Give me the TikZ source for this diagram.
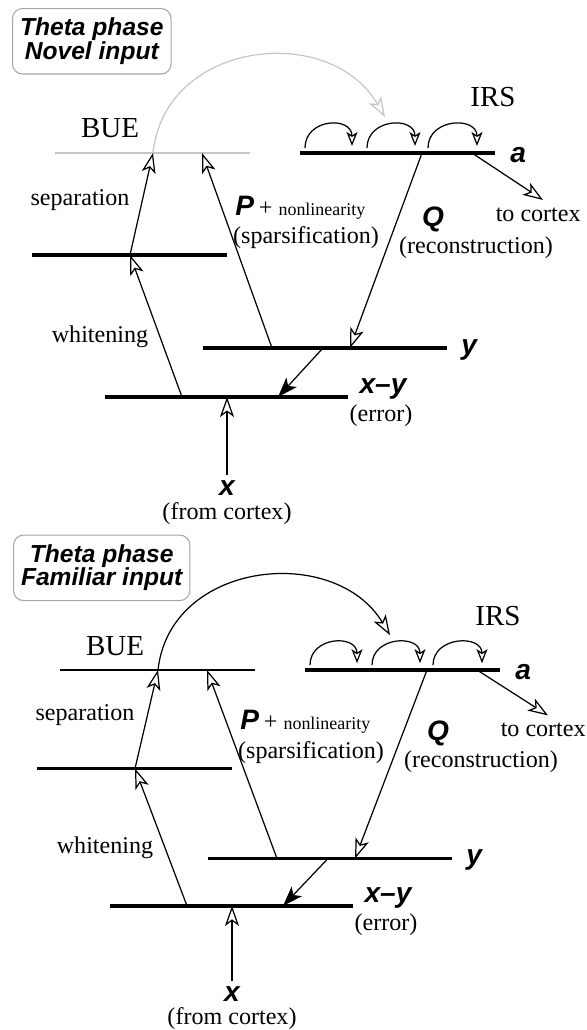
\documentclass[tikz,border=0pt]{standalone}
\usepackage{fontspec}
\setmainfont{Liberation Serif}
\setsansfont{Liberation Sans}
\usetikzlibrary{arrows.meta,positioning}
\tikzset{
  layer/.style={line width=1.9pt},
  feed/.style={line width=0.7pt,-{Stealth[open,length=4mm,width=2.8mm,inset=1mm]}},
  err feed/.style={line width=0.7pt,-{Stealth[length=4mm,width=2.8mm,inset=1mm]}},
  hop/.style={line width=0.7pt,-{Stealth[open,length=2.8mm,width=2.2mm,inset=0.7mm]}},
  lab/.style={font=\fontsize{13.7}{15}\selectfont,inner sep=0pt},
  big lab/.style={font=\fontsize{16.5}{18}\selectfont,inner sep=0pt},
  small lab/.style={font=\fontsize{10.2}{12}\selectfont,inner sep=0pt},
  var/.style={font=\fontsize{16}{17}\sffamily\bfseries\itshape\selectfont,inner sep=0pt},
  title box/.style={draw=gray!70,rounded corners=2mm,line width=0.6pt,align=center,
    inner xsep=1.5mm,inner ysep=1.9mm,font=\fontsize{14}{13.4}\sffamily\bfseries\itshape\selectfont},
}

\begin{document}
\begin{tikzpicture}[x=0.2mm,y=-0.2mm]
  \useasboundingbox (0,0) rectangle (587,1030);
  \foreach \dx/\dy/\sy/\tx/\ty/\kind/\arccol in {0/0/1/12/8/Novel/gray!45,5/522/0.967/8/13/Familiar/black}{
  \begin{scope}[shift={(\dx,\dy)},yscale=\sy]
    \node[title box,anchor=north west] (ttl) at (\tx,\ty) {Theta phase\\\kind{} input};
    % layers
    \coordinate (bueL) at (55,153);  \coordinate (bueR) at (250,153);
    \coordinate (irsL) at (300,153); \coordinate (irsR) at (495,153);
    \coordinate (wL) at (32,255);    \coordinate (wR) at (227,255);
    \coordinate (yL) at (203,348);   \coordinate (yR) at (447,348);
    \coordinate (eL) at (105,397);   \coordinate (eR) at (348,397);
    \draw[line width=1.1pt,draw=\arccol] (bueL) -- (bueR);
    \draw[layer] (irsL) -- (irsR);
    \draw[layer] (wL) -- (wR);
    \draw[layer] (yL) -- (yR);
    \draw[layer] (eL) -- (eR);
    % where the arrows meet the layers
    \coordinate (bueA) at (153,153); \coordinate (bueB) at (202,153);
    \coordinate (wA) at (130,255);
    \coordinate (yP) at (272,348);   \coordinate (yE) at (323,348); \coordinate (yQ) at (350,348);
    \coordinate (eW) at (182,397);   \coordinate (eX) at (227,397); \coordinate (eE) at (278,397);
    \coordinate (irsQ) at (422,153); \coordinate (irsC) at (472,153);
    \coordinate (cortex) at (543,200);
    \coordinate (xin) at (227,475);
    \coordinate (arcT) at (385,117);
    % labels
    \node[big lab] (bue) at (110,128) {BUE};
    \node[big lab] (irs) at (493,97) {IRS};
    \node[lab] (sep) at (80,200) {separation};
    \node[lab] (white) at (100,337) {whitening};
    \node[var,anchor=base west] (P) at (235,215) {P};
    \node[lab,anchor=base west,xshift=0.8mm] (plus) at (P.base east) {+};
    \node[small lab,anchor=base west,xshift=1.1mm] (nonlin) at (plus.base east) {nonlinearity};
    \node[lab] (sparse) at (306,238) {(sparsification)};
    \node[var] (Q) at (433,219) {Q};
    \node[lab] (recon) at (476,248) {(reconstruction)};
    \node[lab,anchor=east] (tocx) at (581,215) {to cortex};
    \node[var,anchor=west] (a) at (510,155) {a};
    \node[var,anchor=west] (y) at (461,350) {y};
    \node[var] (xy) at (383,389) {x–y};
    \node[lab] (err) at (381,416) {(error)};
    \node[var] (x) at (227,488) {x};
    \node[lab] (fromcx) at (227,514) {(from cortex)};
    % connectors
    \draw[feed] (eW) -- (wA);
    \draw[feed] (wA) -- (bueA);
    \draw[feed] (yP) -- (bueB);
    \draw[feed] (irsQ) -- (yQ);
    \draw[err feed] (yE) -- (eE);
    \draw[feed] (xin) -- (eX);
    \draw[feed] (irsC) -- (cortex);
    \draw[feed,draw=\arccol] (bueA) .. controls +(12,-113) and +(-55,-95) .. (arcT);
    \foreach \s/\e in {305/352,367/415,428/477}{
      \coordinate (hs) at (\s,148); \coordinate (he) at (\e,146);
      \draw[hop] (hs) .. controls +(0,-30) and +(0,-30) .. (he);
    }
  \end{scope}
  }
\end{tikzpicture}
\end{document}
